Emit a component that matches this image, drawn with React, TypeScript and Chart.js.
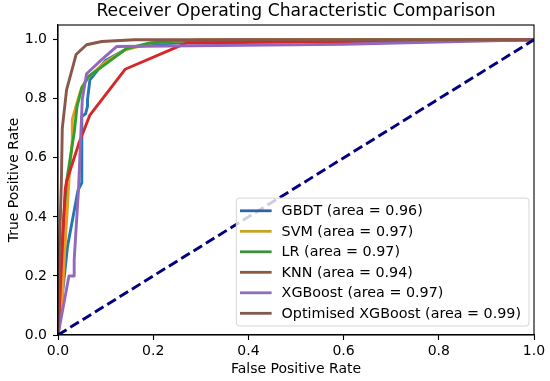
import React, { useEffect, useRef } from "react";
import { Chart, registerables } from "chart.js";

Chart.register(...registerables);

const chartTitle = "Receiver Operating Characteristic Comparison";
const xAxisLabel = "False Positive Rate";
const yAxisLabel = "True Positive Rate";

const modelNames = ["GBDT", "SVM", "LR", "KNN", "XGBoost", "Optimised XGBoost"];
const aucValues = [0.96, 0.97, 0.97, 0.94, 0.97, 0.99];

const gbdtFpr = [0, 0.02, 0.042, 0.05, 0.05, 0.058, 0.062, 0.062, 0.067, 0.1, 0.15, 0.25, 0.35, 1.0];
const gbdtTpr = [0, 0.3, 0.49, 0.515, 0.74, 0.75, 0.774, 0.797, 0.864, 0.93, 0.975, 0.99, 1.0, 1.0];

const svmFpr = [0, 0.008, 0.013, 0.023, 0.03, 0.03, 0.037, 0.05, 0.065, 0.1, 0.14, 0.2, 0.3, 1.0];
const svmTpr = [0, 0.1, 0.25, 0.525, 0.66, 0.73, 0.77, 0.84, 0.875, 0.925, 0.965, 0.99, 1.0, 1.0];

const lrFpr = [0, 0.005, 0.012, 0.018, 0.034, 0.04, 0.05, 0.064, 0.102, 0.144, 0.193, 0.263, 1.0];
const lrTpr = [0, 0.2, 0.4, 0.52, 0.685, 0.774, 0.836, 0.876, 0.92, 0.97, 0.989, 0.997, 1.0];

const knnFpr = [0, 0.015, 0.018, 0.044, 0.067, 0.141, 0.252, 0.27, 1.0];
const knnTpr = [0, 0.49, 0.52, 0.65, 0.745, 0.9, 0.977, 0.989, 1.0];

const xgbFpr = [0, 0.023, 0.034, 0.034, 0.043, 0.051, 0.06, 0.09, 0.123, 0.6, 1.0];
const xgbTpr = [0, 0.2, 0.2, 0.254, 0.49, 0.797, 0.885, 0.93, 0.977, 0.985, 1.0];

const optFpr = [0, 0.003, 0.007, 0.009, 0.018, 0.038, 0.06, 0.092, 0.16, 1.0];
const optTpr = [0, 0.3, 0.51, 0.7, 0.83, 0.95, 0.983, 0.994, 1.0, 1.0];

const chanceFpr = [0, 1];
const chanceTpr = [0, 1];

const xTicks = [0, 0.2, 0.4, 0.6, 0.8, 1.0];
const yTicks = [0, 0.2, 0.4, 0.6, 0.8, 1.0];

const curveColors = ["#1f77b4", "#ee9a1e", "#2ca02c", "#d62728", "#9467bd", "#8c564b"];
const legendColors = ["#2f62a8", "#c9a227", "#3d8f3d", "#8b5a3c", "#8a70bb", "#7f5a4a"];

const FONT = "'DejaVu Sans', 'Liberation Sans', sans-serif";

function toPoints(xs: number[], ys: number[]) {
  return xs.map((x, i) => ({ x, y: ys[i] }));
}

const allFpr = [gbdtFpr, svmFpr, lrFpr, knnFpr, xgbFpr, optFpr];
const allTpr = [gbdtTpr, svmTpr, lrTpr, knnTpr, xgbTpr, optTpr];

const decorPlugin = {
  id: "decor",
  afterDatasetsDraw(chart: any) {
    const { ctx, chartArea } = chart;
    const { left, right, top, bottom } = chartArea;
    ctx.save();
    // axes frame
    ctx.strokeStyle = "#000";
    ctx.lineWidth = 1.1;
    ctx.strokeRect(left, top, right - left, bottom - top);

    // legend
    ctx.font = `14.3px ${FONT}`;
    const labels = modelNames.map((n, i) => `${n} (area = ${aucValues[i].toFixed(2)})`);
    const textW = Math.max(...labels.map((l) => ctx.measureText(l).width));
    const padL = 3.7;
    const lineLen = 31.6;
    const gap = 10;
    const padR = 8;
    const rowH = 20.5;
    const edge = 12.7;
    const boxW = padL + lineLen + gap + textW + padR;
    const boxH = edge * 2 + rowH * (labels.length - 1);
    const bx = right - 5 - boxW;
    const by = bottom - 9 - boxH;
    const r = 3;
    ctx.beginPath();
    ctx.moveTo(bx + r, by);
    ctx.lineTo(bx + boxW - r, by);
    ctx.quadraticCurveTo(bx + boxW, by, bx + boxW, by + r);
    ctx.lineTo(bx + boxW, by + boxH - r);
    ctx.quadraticCurveTo(bx + boxW, by + boxH, bx + boxW - r, by + boxH);
    ctx.lineTo(bx + r, by + boxH);
    ctx.quadraticCurveTo(bx, by + boxH, bx, by + boxH - r);
    ctx.lineTo(bx, by + r);
    ctx.quadraticCurveTo(bx, by, bx + r, by);
    ctx.closePath();
    ctx.fillStyle = "rgba(255,255,255,0.8)";
    ctx.fill();
    ctx.strokeStyle = "#d6d6d6";
    ctx.lineWidth = 1;
    ctx.stroke();

    labels.forEach((l, i) => {
      const cy = by + edge + i * rowH;
      ctx.strokeStyle = legendColors[i];
      ctx.lineWidth = 2.8;
      ctx.beginPath();
      ctx.moveTo(bx + padL, cy);
      ctx.lineTo(bx + padL + lineLen, cy);
      ctx.stroke();
      ctx.fillStyle = "#000";
      ctx.textAlign = "left";
      ctx.textBaseline = "middle";
      ctx.fillText(l, bx + padL + lineLen + gap, cy + 0.5);
    });

    // title
    const cx = (left + right) / 2;
    ctx.fillStyle = "#000";
    ctx.textAlign = "center";
    ctx.textBaseline = "middle";
    ctx.font = `17.2px ${FONT}`;
    ctx.fillText(chartTitle, cx, 12);

    // axis labels
    ctx.font = `14px ${FONT}`;
    ctx.fillText(xAxisLabel, cx, 369);
    ctx.translate(14, (top + bottom) / 2);
    ctx.rotate(-Math.PI / 2);
    ctx.fillText(yAxisLabel, 0, 0);
    ctx.restore();
  },
};

export default function App() {
  const canvasRef = useRef<HTMLCanvasElement | null>(null);

  useEffect(() => {
    document.body.style.margin = "0";
    const canvas = canvasRef.current;
    if (!canvas) return;
    const n = modelNames.length;
    const datasets: any[] = modelNames.map((name, i) => ({
      label: `${name} (area = ${aucValues[i].toFixed(2)})`,
      data: toPoints(allFpr[i], allTpr[i]),
      borderColor: curveColors[i],
      backgroundColor: curveColors[i],
      borderWidth: 2.9,
      pointRadius: 0,
      tension: 0,
      fill: false,
      order: n - i,
      borderJoinStyle: "round",
      borderCapStyle: "butt",
    }));
    datasets.push({
      label: "chance",
      data: toPoints(chanceFpr, chanceTpr),
      borderColor: "#000080",
      borderWidth: 2.9,
      borderDash: [10, 4.5],
      pointRadius: 0,
      fill: false,
      order: 0,
    });

    const chart = new Chart(canvas, {
      type: "line",
      data: { datasets },
      options: {
        animation: false,
        responsive: false,
        maintainAspectRatio: false,
        layout: { padding: { top: 25, right: 16, left: 0, bottom: 0 } },
        plugins: {
          legend: { display: false },
          title: { display: false },
          tooltip: { enabled: false },
        },
        scales: {
          x: {
            type: "linear",
            min: 0,
            max: 1,
            afterFit: (s: any) => {
              s.height = 46;
            },
            afterBuildTicks: (s: any) => {
              s.ticks = xTicks.map((v) => ({ value: v }));
            },
            grid: {
              display: true,
              drawOnChartArea: false,
              drawTicks: true,
              tickLength: 5,
              tickColor: "#000",
              tickWidth: 1.1,
            },
            border: { display: true, color: "#000", width: 1.1 },
            ticks: {
              color: "#000",
              font: { family: FONT, size: 14 },
              padding: 3,
              maxRotation: 0,
              autoSkip: false,
              callback: (v: any) => Number(v).toFixed(1),
            },
          },
          y: {
            type: "linear",
            min: 0,
            max: 1.05,
            afterFit: (s: any) => {
              s.width = 58;
            },
            afterBuildTicks: (s: any) => {
              s.ticks = yTicks.map((v) => ({ value: v }));
            },
            grid: {
              display: true,
              drawOnChartArea: false,
              drawTicks: true,
              tickLength: 5,
              tickColor: "#000",
              tickWidth: 1.1,
            },
            border: { display: true, color: "#000", width: 1.1 },
            ticks: {
              color: "#000",
              font: { family: FONT, size: 14 },
              padding: 6,
              autoSkip: false,
              callback: (v: any) => Number(v).toFixed(1),
            },
          },
        },
      } as any,
      plugins: [decorPlugin],
    });
    return () => chart.destroy();
  }, []);

  return (
    <div style={{ position: "absolute", left: 0, top: 0, width: 550, height: 381, background: "#fff" }}>
      <canvas ref={canvasRef} width={550} height={381} style={{ width: 550, height: 381 }} />
    </div>
  );
}
